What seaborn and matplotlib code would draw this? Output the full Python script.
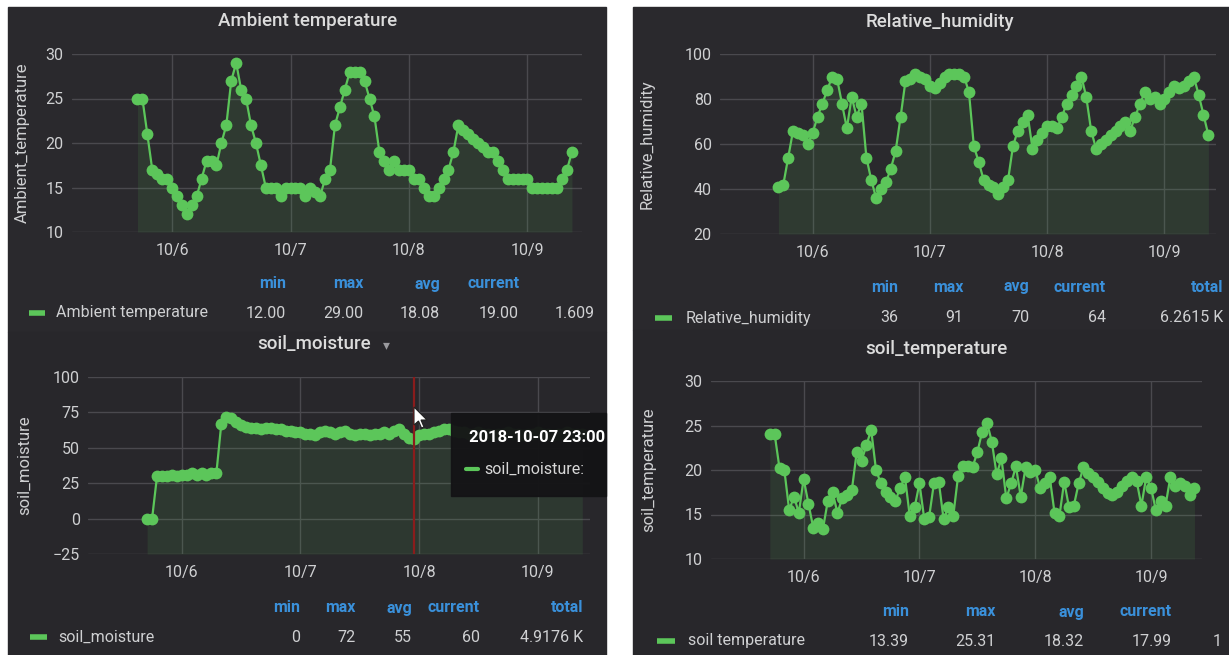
import numpy as np
import pandas as pd
import seaborn as sns
import matplotlib.pyplot as plt
import matplotlib.dates as mdates
from matplotlib.patches import Rectangle, Polygon
from matplotlib.lines import Line2D

sns.set_theme(style='dark')
plt.rcParams['font.family'] = ['Roboto', 'DejaVu Sans']

W, H = 1229, 655

# hourly readings, 2018-10-05 17:00 .. 2018-10-09 09:00
times = pd.date_range('2018-10-05 17:00', periods=89, freq='h')

ambient_temperature = [25, 25, 21, 17, 16.5, 16, 16, 15, 14, 13, 12, 13, 14, 16, 18, 18,
                       17.5, 20, 22, 27, 29, 26, 25, 22, 20, 17.5, 15, 15, 15, 14, 15, 15,
                       15, 15, 14, 15, 14.5, 14, 16, 17, 22, 24, 26, 28, 28, 28, 27, 25,
                       23, 19, 18, 17, 18, 17, 17, 17, 16, 16, 15, 14, 14, 15, 16, 17,
                       19, 22, 21.5, 21, 20.5, 20, 19.5, 19, 19, 18, 17, 16, 16, 16, 16,
                       16, 15, 15, 15, 15, 15, 15, 16, 17, 19]
relative_humidity = [41, 42, 54, 66, 65, 64, 60, 65, 72, 78, 84, 90, 89, 78, 67, 81,
                     72, 78, 54, 44, 36, 40, 43, 49, 57, 72, 88, 89, 91, 90, 89, 86,
                     85, 87, 90, 91, 91, 91, 90, 83, 59, 52, 44, 42, 41, 38, 41, 44,
                     59, 66, 70, 73, 58, 62, 65, 68, 68, 67, 72, 78, 82, 86, 90, 81,
                     66, 58, 60, 62, 64, 66, 68, 70, 66, 72, 78, 83, 80, 81, 78, 80,
                     83, 86, 85, 86, 88, 90, 82, 73, 64]
soil_moisture = [0, 0, 30, 30, 30, 31, 30, 31, 31, 32, 31, 32, 31, 32, 32, 67,
                 72, 71, 68, 66, 65, 64, 64, 63, 64, 64, 63, 63, 62, 62, 61, 61,
                 60, 60, 59, 61, 62, 61, 60, 61, 62, 60, 59, 60, 60, 59, 60, 60,
                 61, 60, 62, 63, 60, 57, 56, 59, 60, 60, 61, 62, 63, 63, 62, 61,
                 61, 60, 60, 61, 60, 60, 59, 60, 60, 61, 60, 60, 59, 60, 60, 61,
                 60, 60, 59, 60, 60, 61, 60, 60, 60]
soil_temperature = [24, 24, 20.2, 20, 15.5, 17, 15.2, 19, 16.2, 13.5, 14, 13.39, 16.5, 17.5,
                    15.2, 16.8, 17.2, 17.8, 22, 21, 22.8, 24.5, 20, 18.5, 17.5, 17, 16.5,
                    18, 19.2, 14.8, 15.8, 18.5, 14.5, 14.7, 18.5, 18.7, 14.5, 15.8, 14.8,
                    19.3, 20.5, 20.5, 20.3, 22, 24.3, 25.31, 23.2, 19.5, 21.3, 16.8, 18.5,
                    20.4, 17, 20.3, 19.8, 20, 18, 18.5, 19.2, 15.2, 14.8, 18.7, 15.8, 16,
                    18.5, 20.3, 19.7, 19.2, 18.6, 18, 17.4, 17.2, 17.5, 18.2, 18.8, 19.2,
                    18.8, 16, 19.2, 18, 15.5, 16.5, 16, 19.2, 18.2, 18.5, 18.2, 17.2, 17.99]

day_ticks = pd.to_datetime(['2018-10-06', '2018-10-07', '2018-10-08', '2018-10-09'])
day_labels = ['10/6', '10/7', '10/8', '10/9']

ambient_stats = ['12.00', '29.00', '18.08', '19.00', '1.609']
humidity_stats = ['36', '91', '70', '64', '6.2615 K']
moisture_stats = ['0', '72', '55', '60', '4.9176 K']
soil_temp_stats = ['13.39', '25.31', '18.32', '17.99', '1']

green = '#5cc65a'
panel_top = '#2a292d'
panel_bottom = '#28272b'
grid_c = '#4a494e'
text_c = '#cfd0d2'
head_c = '#3a90da'

panels = [
    dict(values=ambient_temperature, title='Ambient temperature', ylabel='Ambient_temperature',
         rect=(8, 7, 606, 332), color=panel_top, ax=(72, 54, 582, 232), ylim=(10, 30),
         yticks=[10, 15, 20, 25, 30], xlim=(-0.844, 3.46), title_xy=(308, 21), ylabel_x=22,
         legend='Ambient temperature', stats=ambient_stats, head_y=284, row_y=313,
         cols=[286, 363, 440, 519, 595], heads=['min', 'max', 'avg', 'current', ''],
         dash=(29, 45), label_x=56),
    dict(values=relative_humidity, title='Relative_humidity', ylabel='Relative_humidity',
         rect=(633, 7, 1229, 330), color=panel_top, ax=(720, 54, 1216, 234), ylim=(20, 100),
         yticks=[20, 40, 60, 80, 100], xlim=(-0.79, 3.44), title_xy=(940, 22), ylabel_x=647,
         legend='Relative_humidity', stats=humidity_stats, head_y=287, row_y=318,
         cols=[898, 963, 1029, 1106, 1223], heads=['min', 'max', 'avg', 'current', 'total'],
         dash=(655, 672), label_x=686),
    dict(values=soil_moisture, title='soil_moisture', ylabel='soil_moisture',
         rect=(8, 332, 606, 655), color=panel_bottom, ax=(88, 377, 590, 554), ylim=(-25, 100),
         yticks=[-25, 0, 25, 50, 75, 100], xlim=(-0.79, 3.44), title_xy=(314, 344), ylabel_x=24,
         legend='soil_moisture', stats=moisture_stats, head_y=608, row_y=637,
         cols=[300, 356, 412, 480, 583], heads=['min', 'max', 'avg', 'current', 'total'],
         dash=(30, 47), label_x=58),
    dict(values=soil_temperature, title='soil_temperature', ylabel='soil_temperature',
         rect=(633, 330, 1229, 655), color=panel_bottom, ax=(711, 381, 1202, 559), ylim=(10, 30),
         yticks=[10, 15, 20, 25, 30], xlim=(-0.80, 3.44), title_xy=(936, 349), ylabel_x=649,
         legend='soil temperature', stats=soil_temp_stats, head_y=612, row_y=641,
         cols=[909, 995, 1084, 1172, 1222], heads=['min', 'max', 'avg', 'current', ''],
         dash=(657, 675), label_x=688),
]


def fx(x):
    return x / W


def fy(y):
    return 1 - y / H


fig = plt.figure(figsize=(W / 100, H / 100), dpi=100)
fig.patch.set_facecolor('white')

base = day_ticks[0]
for p in panels:
    x0, y0, x1, y1 = p['rect']
    fig.add_artist(Rectangle((fx(x0), fy(y1)), (x1 - x0) / W, (y1 - y0) / H,
                             transform=fig.transFigure, color=p['color'], zorder=-2))
    l, t, r, b = p['ax']
    ax = fig.add_axes([fx(l), fy(b), (r - l) / W, (b - t) / H])
    ax.set_facecolor('none')

    df = pd.DataFrame({'time': times, 'value': p['values']})
    ax.fill_between(df['time'], df['value'], p['ylim'][0], color=green, alpha=0.11, linewidth=0)
    sns.lineplot(data=df, x='time', y='value', ax=ax, color=green, linewidth=1.6,
                 marker='o', markersize=8.5, markeredgewidth=0)

    ax.set_ylim(*p['ylim'])
    ax.set_yticks(p['yticks'])
    ax.set_xlim(mdates.date2num(base + pd.Timedelta(days=p['xlim'][0])),
                mdates.date2num(base + pd.Timedelta(days=p['xlim'][1])))
    ax.set_xticks(mdates.date2num(day_ticks))
    ax.set_xticklabels(day_labels)
    ax.grid(True, color=grid_c, linewidth=1)
    ax.set_axisbelow(True)
    for s in ax.spines.values():
        s.set_visible(False)
    ax.tick_params(length=0, colors=text_c, labelsize=11.5)
    ax.tick_params(axis='x', pad=8)
    ax.tick_params(axis='y', pad=6)
    ax.set_xlabel('')
    ax.set_ylabel('')
    p['axes'] = ax

    fig.text(fx(p['title_xy'][0]), fy(p['title_xy'][1]), p['title'], ha='center', va='center',
             color='#dcdcdc', fontsize=13.5, fontweight='medium')
    fig.text(fx(p['ylabel_x']), fy((t + b) / 2), p['ylabel'], rotation=90, ha='center',
             va='center', color=text_c, fontsize=12)

    # legend table
    fig.add_artist(Line2D([fx(p['dash'][0]), fx(p['dash'][1])], [fy(p['row_y'])] * 2,
                          transform=fig.transFigure, color=green, lw=4, solid_capstyle='butt'))
    fig.text(fx(p['label_x']), fy(p['row_y']), p['legend'], ha='left', va='center',
             color=text_c, fontsize=11.5)
    for cx, head, val in zip(p['cols'], p['heads'], p['stats']):
        if head:
            fig.text(fx(cx), fy(p['head_y']), head, ha='right', va='center', color=head_c,
                     fontsize=11.5, fontweight='bold')
        fig.text(fx(cx), fy(p['row_y']), val, ha='right', va='center', color=text_c,
                 fontsize=11.5)

# dropdown caret next to soil_moisture title
fig.text(fx(386), fy(345), '\u25be', ha='center', va='center', color='#9a9a9e', fontsize=10,
         family=['DejaVu Sans'])

# hover marker on soil_moisture
sm_ax = panels[2]['axes']
sm_ax.axvline(mdates.date2num(pd.Timestamp('2018-10-07 23:00')), color='#8a1c1c', lw=1.6,
              zorder=3)

# tooltip
fig.add_artist(Rectangle((fx(451), fy(496)), (606 - 451) / W, (496 - 413) / H,
                         transform=fig.transFigure, color='#141416', alpha=0.96, zorder=5))
fig.text(fx(469), fy(437), '2018-10-07 23:00', ha='left', va='center', color='white',
         fontsize=12, fontweight='bold', zorder=6)
fig.add_artist(Line2D([fx(466), fx(478)], [fy(469)] * 2, transform=fig.transFigure,
                      color=green, lw=3, zorder=6))
fig.text(fx(484), fy(469), 'soil_moisture:', ha='left', va='center', color='#d8d8d8',
         fontsize=11.5, zorder=6)

# mouse pointer
tip = (414, 407)
pts = [(0, 0), (0, 18), (4.5, 14), (7.5, 21), (10, 20), (7, 13), (13, 13)]
fig.add_artist(Polygon([(fx(tip[0] + a), fy(tip[1] + c)) for a, c in pts], closed=True,
                       transform=fig.transFigure, facecolor='white', edgecolor='#222222',
                       lw=0.8, zorder=7))

fig.savefig('out.png', dpi=100, facecolor='white')
